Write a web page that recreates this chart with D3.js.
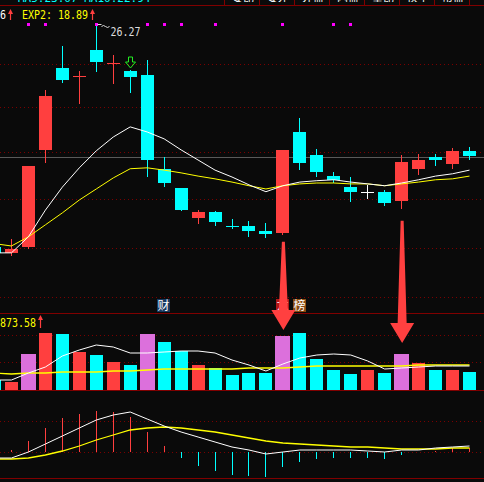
<!DOCTYPE html>
<html>
<head>
<meta charset="utf-8">
<script src="https://cdn.jsdelivr.net/npm/d3@7"></script>
<style>
html, body { margin: 0; padding: 0; background: #0a0a0a; overflow: hidden; }
svg { display: block; }
</style>
</head>
<body>
<script>
// day index, -1 is the candle cut off at the left edge
var days  = d3.range(-1, 28);
var open  = [21.40, 21.27, 21.40, 23.51, 25.29, 25.10, 25.68, 25.38, 25.23, 25.14, 23.10, 22.68, 22.03, 22.16, 21.86,
             21.86, 21.75, 21.70, 23.90, 23.40, 22.94, 22.70, 22.60, 22.60, 22.40, 23.10, 23.36, 23.20, 23.49];
var high  = [21.42, 21.57, 23.16, 24.81, 25.77, 25.23, 26.27, 25.57, 25.25, 25.47, 23.36, 22.68, 22.20, 22.18, 22.01,
             21.97, 21.92, 23.51, 24.20, 23.53, 23.03, 22.92, 22.75, 22.64, 23.40, 23.42, 23.42, 23.55, 23.57];
var low   = [21.25, 21.23, 21.38, 23.25, 24.99, 24.53, 25.23, 24.97, 24.77, 22.94, 22.73, 22.20, 21.92, 21.88, 21.81,
             21.64, 21.62, 21.68, 23.10, 22.94, 22.81, 22.40, 22.47, 22.31, 22.25, 22.99, 23.18, 23.12, 23.31];
var close = [21.27, 21.36, 23.16, 24.68, 25.03, 25.11, 25.42, 25.39, 25.10, 23.29, 22.79, 22.20, 22.16, 21.94, 21.85,
             21.75, 21.68, 23.51, 23.23, 23.03, 22.86, 22.60, 22.60, 22.36, 23.25, 23.29, 23.29, 23.49, 23.38];
var ma5   = [21.27, 21.27, 21.62, 22.20, 22.70, 23.12, 23.49, 23.79, 24.01, 23.90, 23.75, 23.51, 23.29, 23.07, 22.92,
             22.75, 22.60, 22.73, 22.81, 22.84, 22.86, 22.81, 22.77, 22.73, 22.79, 22.86, 22.94, 22.99, 23.07];
var ma10  = [21.47, 21.42, 21.62, 21.88, 22.14, 22.42, 22.66, 22.90, 23.10, 23.12, 23.07, 23.01, 22.94, 22.88, 22.81,
             22.73, 22.66, 22.73, 22.77, 22.79, 22.79, 22.77, 22.77, 22.73, 22.77, 22.81, 22.86, 22.88, 22.94];

var volume  = [200, 160, 720, 1140, 1120, 760, 700, 560, 500, 1120, 960, 780, 500, 440, 300,
               340, 340, 1080, 1140, 620, 400, 320, 400, 340, 720, 540, 400, 400, 360];
var volMa5  = [200, 200, 340, 460, 680, 800, 900, 860, 740, 740, 760, 780, 780, 740, 600,
               500, 380, 520, 640, 700, 720, 700, 580, 420, 440, 460, 480, 480, 480];
var volMa10 = [340, 320, 340, 340, 360, 360, 360, 380, 380, 400, 420, 420, 420, 420, 420,
               440, 440, 440, 460, 480, 480, 480, 480, 480, 480, 500, 500, 500, 500];

var macd = [0, 0.02, 0.11, 0.24, 0.34, 0.38, 0.41, 0.40, 0.35, 0.20, 0.06, -0.06, -0.14, -0.19, -0.23,
            -0.24, -0.25, -0.15, -0.10, -0.07, -0.06, -0.06, -0.06, -0.07, -0.03, 0, 0.01, 0.04, 0.04];
var dif  = [-0.06, -0.06, 0, 0.08, 0.16, 0.24, 0.32, 0.37, 0.40, 0.33, 0.26, 0.20, 0.15, 0.10, 0.05,
            0.02, -0.02, 0, 0.02, 0.02, 0.02, 0.02, 0.01, 0, 0.02, 0.02, 0.04, 0.05, 0.06];
var dea  = [-0.07, -0.07, -0.06, -0.03, 0.01, 0.06, 0.12, 0.17, 0.22, 0.24, 0.25, 0.24, 0.22, 0.20, 0.17,
            0.14, 0.11, 0.09, 0.08, 0.07, 0.06, 0.05, 0.05, 0.04, 0.03, 0.03, 0.03, 0.04, 0.04];

// marked days
var limitDays  = [1, 8, 16, 23];                 // violet volume bars
var signalDays = [1, 2, 5, 8, 9, 10, 12, 16, 19, 20];
var tagDays    = [9, 16, 17];
var tagTexts   = ["财", "龙", "榜"];
var arrowDays  = [16, 23];
var arrowFrom  = [21.51, 21.97];                 // price where arrow starts
var arrowTo    = [1200, 940];                    // volume level of arrow tip

// tick / grid values
var priceGrid = [25.38, 24.44, 23.47, 22.44, 21.38, 20.31];
var refPrice  = 23.36;
var volGrid   = [1100, 560];
var macdGrid  = [0.31, 0];

var headerTexts = ["委比", "委差", "外盘", "内盘", "量比", "换手", "市盈"];

var W = 484, H = 482;
var RED = "#ff3f3f", CYAN = "#00ffff", VIOLET = "#dc70dc", GRID = "#7a0000";

var svg = d3.select("body").append("svg")
    .attr("width", W)
    .attr("height", H)
    .style("font-family", "'DejaVu Sans Mono', monospace");

svg.append("rect").attr("width", W).attr("height", H).attr("fill", "#0a0a0a");

// scales
var x  = d3.scaleLinear().domain([-1, 27]).range([-5.5, 469.5]);
var yP = d3.scaleLinear().domain([20.31, 26.27]).range([297, 23]);
var yV = d3.scaleLinear().domain([0, 1540]).range([390, 313]);
var yM = d3.scaleLinear().domain([-0.26, 0.57]).range([478, 395]);

function px(v) { return Math.round(v) + 0.5; }
function cx(i) { return Math.floor(x(i)) + 0.5; }

var rows = days.map(function(d, k) {
  return {i: d, o: open[k], h: high[k], l: low[k], c: close[k], v: volume[k],
          ma5: ma5[k], ma10: ma10[k], vm5: volMa5[k], vm10: volMa10[k],
          macd: macd[k], dif: dif[k], dea: dea[k]};
});

// clips
var defs = svg.append("defs");
[["clipMain", 6, 313], ["clipVol", 314, 390], ["clipMacd", 391, 478]].forEach(function(c) {
  defs.append("clipPath").attr("id", c[0])
    .append("rect").attr("x", 0).attr("y", c[1]).attr("width", W).attr("height", c[2] - c[1]);
});

// header strip (only the lower edge of the toolbar text shows)
var header = svg.append("g");
defs.append("clipPath").attr("id", "clipHead")
  .append("rect").attr("x", 0).attr("y", 0).attr("width", W).attr("height", 2);
header.append("g").attr("clip-path", "url(#clipHead)")
  .selectAll("text").data(headerTexts).enter().append("text")
    .attr("x", function(d, k) { return 232 + k * 35; })
    .attr("y", 1.5)
    .attr("fill", "#fff")
    .attr("font-size", 11)
    .style("font-family", "'Noto Sans CJK SC'")
    .text(function(d) { return d; });
header.append("g").attr("clip-path", "url(#clipHead)")
  .append("text").attr("x", 18).attr("y", 1.5).attr("fill", CYAN).attr("font-size", 11)
  .text("MA5:23.07 MA10:22.94");
header.selectAll("line.div").data(d3.range(8)).enter().append("line")
    .attr("x1", function(k) { return 224.5 + k * 35; })
    .attr("x2", function(k) { return 224.5 + k * 35; })
    .attr("y1", 0).attr("y2", 5)
    .attr("stroke", "#800000");

// panel separators
[5, 313, 390, 478].forEach(function(yy) {
  svg.append("line").attr("x1", 0).attr("x2", W).attr("y1", yy + 0.5).attr("y2", yy + 0.5)
    .attr("stroke", "#800000");
});

// dotted grids
function dotted(yy) {
  svg.append("line").attr("x1", 0).attr("x2", W).attr("y1", px(yy)).attr("y2", px(yy))
    .attr("stroke", GRID).attr("stroke-dasharray", "1,3");
}
priceGrid.forEach(function(p) { dotted(yP(p)); });
volGrid.forEach(function(v) { dotted(yV(v)); });
macdGrid.forEach(function(m) { dotted(yM(m)); });

svg.append("line").attr("x1", 0).attr("x2", W)
  .attr("y1", px(yP(refPrice))).attr("y2", px(yP(refPrice)))
  .attr("stroke", "#5a5a5a");

// ---- main panel: candles
var main = svg.append("g").attr("clip-path", "url(#clipMain)").attr("shape-rendering", "crispEdges");

function candleColor(d) {
  if (d.c > d.o) return RED;
  if (d.c < d.o) return CYAN;
  return "#ffffff";
}

main.selectAll("line.wick").data(rows).enter().append("line")
    .attr("x1", function(d) { return cx(d.i); })
    .attr("x2", function(d) { return cx(d.i); })
    .attr("y1", function(d) { return Math.round(yP(d.h)); })
    .attr("y2", function(d) { return Math.round(yP(d.l)) + 1; })
    .attr("stroke", candleColor);

main.selectAll("rect.body").data(rows).enter().append("rect")
    .attr("x", function(d) { return Math.round(x(d.i) - 6.5); })
    .attr("width", 13)
    .attr("y", function(d) { return Math.round(yP(Math.max(d.o, d.c))); })
    .attr("height", function(d) {
      return Math.max(1, Math.round(yP(Math.min(d.o, d.c))) - Math.round(yP(Math.max(d.o, d.c))));
    })
    .attr("fill", candleColor);

// moving averages
var maLine = function(key) {
  return d3.line().x(function(d) { return x(d.i); }).y(function(d) { return yP(d[key]); });
};
var lines = svg.append("g").attr("clip-path", "url(#clipMain)");
lines.append("path").datum(rows).attr("d", maLine("ma10"))
  .attr("fill", "none").attr("stroke", "#ffff00").attr("stroke-width", 1);
lines.append("path").datum(rows).attr("d", maLine("ma5"))
  .attr("fill", "none").attr("stroke", "#ffffff").attr("stroke-width", 1);

// signal dots
svg.selectAll("rect.sig").data(signalDays).enter().append("rect")
    .attr("x", function(i) { return Math.round(x(i) - 1.5); })
    .attr("y", 23).attr("width", 3).attr("height", 3)
    .attr("fill", "#ff00ff");

// highest price marker
var hiIdx = d3.maxIndex(high);
var hx = cx(days[hiIdx]), hy = yP(high[hiIdx]);
svg.append("path")
  .attr("d", "M" + (hx + 1) + "," + (hy + 1.5) + "h4 M" + (hx + 5) + "," + (hy + 3.5) +
             "q2,-2 4,0 t4,0")
  .attr("fill", "none").attr("stroke", "#dddddd");
svg.append("text").attr("x", hx + 14).attr("y", hy + 12.5)
  .attr("fill", "#dddddd").attr("font-size", 13)
  .attr("textLength", 30).attr("lengthAdjust", "spacingAndGlyphs")
  .text(d3.format(".2f")(high[hiIdx]));

// green hollow arrow above day 7
(function() {
  var gx = cx(7), gy = Math.round(yP(high[8])) - 2;
  svg.append("path")
    .attr("d", "M" + (gx - 2) + "," + (gy - 11) + "h4v5h3l-5,6l-5,-6h3z")
    .attr("fill", "none").attr("stroke", "#22ee22").attr("stroke-width", 1);
})();

// title row
function upArrow(ax, top, bottom) {
  svg.append("line").attr("x1", ax + 0.5).attr("x2", ax + 0.5).attr("y1", top + 2).attr("y2", bottom)
    .attr("stroke", RED).attr("stroke-width", 1.2);
  svg.append("path").attr("d", "M" + (ax - 2) + "," + (top + 5) + "L" + (ax + 0.5) + "," + top +
                               "L" + (ax + 3) + "," + (top + 5) + "z")
    .attr("fill", RED);
}
svg.append("text").attr("x", 0).attr("y", 18.5).attr("fill", "#ffffff").attr("font-size", 13)
  .attr("textLength", 6).attr("lengthAdjust", "spacingAndGlyphs").text("6");
upArrow(10, 9, 20);
svg.append("text").attr("x", 22).attr("y", 18.5).attr("fill", "#ffff00").attr("font-size", 13)
  .attr("textLength", 66).attr("lengthAdjust", "spacingAndGlyphs")
  .text("EXP2: 18.89");
upArrow(92, 9, 20);

// tags near the bottom of the main panel
var tagBg = {"财": "#17385e", "龙": "#b01818", "榜": "#8a4a10"};
var tags = svg.append("g");
tagDays.forEach(function(i, k) {
  var tx = Math.round(x(i)) - 7;
  tags.append("rect").attr("x", tx).attr("y", 299).attr("width", 13).attr("height", 13)
    .attr("fill", tagBg[tagTexts[k]]);
  tags.append("text").attr("x", tx + 6.5).attr("y", 310).attr("text-anchor", "middle")
    .attr("fill", "#ffffff").attr("font-size", 12)
    .style("font-family", "'Noto Sans CJK SC'")
    .text(tagTexts[k]);
});

// ---- volume panel
var vol = svg.append("g").attr("clip-path", "url(#clipVol)").attr("shape-rendering", "crispEdges");
vol.selectAll("rect").data(rows).enter().append("rect")
    .attr("x", function(d) {
      return Math.round(x(d.i) - 6.5) - (limitDays.indexOf(d.i) >= 0 ? 1 : 0);
    })
    .attr("width", function(d) { return limitDays.indexOf(d.i) >= 0 ? 15 : 13; })
    .attr("y", function(d) { return Math.round(yV(d.v)); })
    .attr("height", function(d) { return yV(0) - Math.round(yV(d.v)); })
    .attr("fill", function(d) {
      if (limitDays.indexOf(d.i) >= 0) return VIOLET;
      return d.c >= d.o ? RED : CYAN;
    });

var vLine = function(key) {
  return d3.line().x(function(d) { return x(d.i); }).y(function(d) { return yV(d[key]); });
};
var vlines = svg.append("g").attr("clip-path", "url(#clipVol)");
vlines.append("path").datum(rows).attr("d", vLine("vm10"))
  .attr("fill", "none").attr("stroke", "#ffff00").attr("stroke-width", 1.3);
vlines.append("path").datum(rows).attr("d", vLine("vm5"))
  .attr("fill", "none").attr("stroke", "#ffffff").attr("stroke-width", 1);

svg.append("text").attr("x", 0).attr("y", 326.5).attr("fill", "#ffff00").attr("font-size", 13)
  .attr("textLength", 36).attr("lengthAdjust", "spacingAndGlyphs")
  .text("873.58");
upArrow(40, 315, 328);

// ---- macd panel
var mg = svg.append("g").attr("clip-path", "url(#clipMacd)").attr("shape-rendering", "crispEdges");
mg.selectAll("line").data(rows.filter(function(d) { return d.macd !== 0; })).enter().append("line")
    .attr("x1", function(d) { return cx(d.i); })
    .attr("x2", function(d) { return cx(d.i); })
    .attr("y1", yM(0))
    .attr("y2", function(d) { return Math.round(yM(d.macd)); })
    .attr("stroke", function(d) { return d.macd > 0 ? RED : CYAN; })
    .attr("stroke-width", 1.5);

var mLine = function(key) {
  return d3.line().x(function(d) { return x(d.i); }).y(function(d) { return yM(d[key]); });
};
var mlines = svg.append("g").attr("clip-path", "url(#clipMacd)");
mlines.append("path").datum(rows).attr("d", mLine("dea"))
  .attr("fill", "none").attr("stroke", "#ffff00").attr("stroke-width", 1.3);
mlines.append("path").datum(rows).attr("d", mLine("dif"))
  .attr("fill", "none").attr("stroke", "#ffffff").attr("stroke-width", 1);

// ---- big red annotation arrows
arrowDays.forEach(function(i, k) {
  var ax = x(i) + 0.5;
  var y0 = yP(arrowFrom[k]), y1 = yV(arrowTo[k]), yb = y1 - 20;
  var pts = [[ax - 1.5, y0], [ax + 1.5, y0], [ax + 4.5, yb], [ax + 12, yb], [ax, y1],
             [ax - 12, yb], [ax - 4.5, yb]];
  svg.append("path").attr("d", d3.line()(pts) + "Z").attr("fill", "#ff4040");
});
</script>
</body>
</html>
